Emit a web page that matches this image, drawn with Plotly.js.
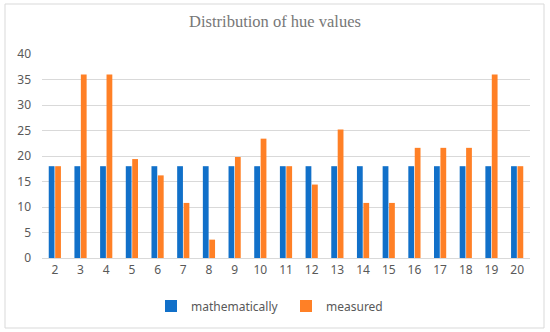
<!DOCTYPE html>
<html><head><meta charset="utf-8">
<script src="https://cdn.plot.ly/plotly-3.0.1.min.js"></script>
<style>html,body{margin:0;padding:0;background:#fff}#c{width:550px;height:332px}</style>
</head><body><div id="c"></div>
<script>
const categories = ["2","3","4","5","6","7","8","9","10","11","12","13","14","15","16","17","18","19","20"];
const mathematically = [18,18,18,18,18,18,18,18,18,18,18,18,18,18,18,18,18,18,18];
const measured = [18,36,36,19.4,16.2,10.8,3.6,19.8,23.4,18,14.4,25.2,10.8,10.8,21.6,21.6,21.6,36,18];
const L=42,R=530,T=54,B=258;
const pw=R-L, ph=B-T;
const px=x=>(x-L)/pw, py=y=>(B-y)/ph;
Plotly.newPlot('c',[
 {type:'bar',name:'mathematically',x:categories,y:mathematically,marker:{color:'#1170C9'}},
 {type:'bar',name:'measured',x:categories,y:measured,marker:{color:'#FF8026'}}
],{
 width:550,height:332,
 margin:{l:L,r:550-R,t:T,b:332-B},
 paper_bgcolor:'#fff',plot_bgcolor:'#fff',
 barmode:'group',bargap:0.5,bargroupgap:0.1,
 title:{text:'Distribution of hue values',font:{family:'Liberation Serif, serif',size:16.5,color:'#777'},x:0.5,xanchor:'center',y:1-21/332,yanchor:'middle'},
 xaxis:{type:'category',showgrid:false,zeroline:false,showline:false,ticks:'',ticklabelstandoff:3,tickfont:{family:'Noto Sans',size:12,color:'#595959'}},
 yaxis:{range:[0,40],dtick:5,showgrid:true,gridcolor:'#d9d9d9',gridwidth:1,zeroline:true,zerolinecolor:'#d9d9d9',showline:false,ticks:'',ticklabelstandoff:10,tickfont:{family:'Noto Sans',size:12,color:'#595959'}},
 showlegend:true,
 legend:{orientation:'h',x:0.5,xanchor:'center',y:py(306),yanchor:'middle',font:{family:'Noto Sans',size:12,color:'#595959'},itemwidth:30,entrywidth:90,traceorder:'normal'},
 shapes:[{type:'rect',xref:'paper',yref:'paper',x0:px(5),x1:px(544),y0:py(328),y1:py(4),line:{color:'#d9d9d9',width:1}}]
},{displayModeBar:false,staticPlot:true});
</script></body></html>
